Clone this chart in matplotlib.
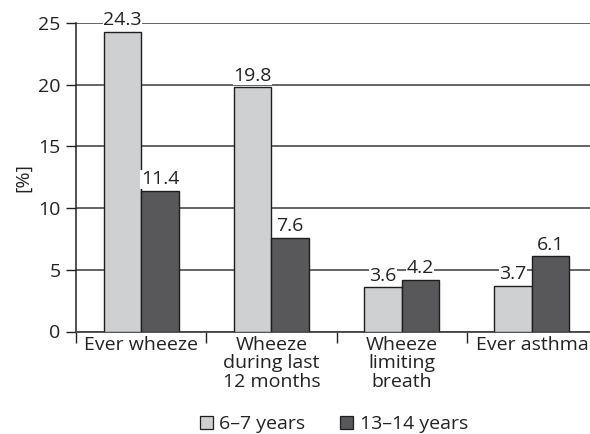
import matplotlib
matplotlib.use("Agg")
import matplotlib.pyplot as plt
import numpy as np
from matplotlib.patches import Patch

# data
categories = ["Ever wheeze", "Wheeze\nduring last\n12 months", "Wheeze\nlimiting\nbreath", "Ever asthma"]
series_names = ["6\u20137 years", "13\u201314 years"]
young = [24.3, 19.8, 3.6, 3.7]
teens = [11.4, 7.6, 4.2, 6.1]

LIGHT = "#cfd0d2"
DARK = "#58585a"
EDGE = "#1e1e1e"
FS = 14

plt.rcParams["font.family"] = ["Open Sans", "DejaVu Sans"]

W, H = 590, 434
fig = plt.figure(figsize=(W / 100, H / 100), dpi=100)
left, right, top, bottom = 76, 597, 23, 331.5
ax = fig.add_axes([left / W, 1 - bottom / H, (right - left) / W, (bottom - top) / H])

x = np.arange(len(categories)) + 0.5
bw = 0.288
for vals, off, col in [(young, -bw / 2, LIGHT), (teens, bw / 2, DARK)]:
    bars = ax.bar(x + off, vals, width=bw, color=col, edgecolor=EDGE, linewidth=1.0, zorder=3)
    for b, v in zip(bars, vals):
        ax.text(b.get_x() + b.get_width() / 2, v + 0.2, f"{v:.1f}", ha="center", va="bottom",
                fontsize=FS, color="#222222", zorder=4,
                bbox=dict(facecolor="white", edgecolor="none", pad=0.3))

ax.set_xlim(0, len(categories))
ax.set_ylim(0, 25)
ax.set_yticks(range(0, 26, 5))
ax.yaxis.grid(True, color="#3a3a3a", linewidth=1.1, zorder=0)
ax.set_axisbelow(True)

ax.set_xticks(np.arange(len(categories) + 1))
ax.set_xticklabels([])
ax.set_xticks(x, minor=True)
ax.set_xticklabels(categories, minor=True, fontsize=FS, linespacing=1.05)
ax.tick_params(axis="x", which="major", length=8, width=1.0, color="#222222", direction="out")
ax.tick_params(axis="x", which="minor", length=0, pad=3, colors="#222222")
ax.tick_params(axis="y", length=7, width=1.0, color="#222222", pad=4, labelsize=FS, labelcolor="#222222")

for s in ["top", "right"]:
    ax.spines[s].set_visible(False)
ax.spines["left"].set_color("#222222")
ax.spines["left"].set_linewidth(1.1)
ax.spines["bottom"].set_color("#444444")
ax.spines["bottom"].set_linewidth(1.3)

fig.text(23 / W, 1 - 177 / H, "[%]", rotation=90, ha="center", va="center", fontsize=FS, color="#222222")

handles = [Patch(facecolor=LIGHT, edgecolor=EDGE, linewidth=0.9),
           Patch(facecolor=DARK, edgecolor=EDGE, linewidth=0.9)]
fig.legend(handles, series_names, loc="center", bbox_to_anchor=(334 / W, 1 - 424 / H), ncol=2,
           frameon=False, fontsize=FS, handlelength=0.65, handleheight=0.65, handletextpad=0.35,
           columnspacing=1.8, borderpad=0, labelcolor="#222222")

fig.savefig("out.png", dpi=100)
